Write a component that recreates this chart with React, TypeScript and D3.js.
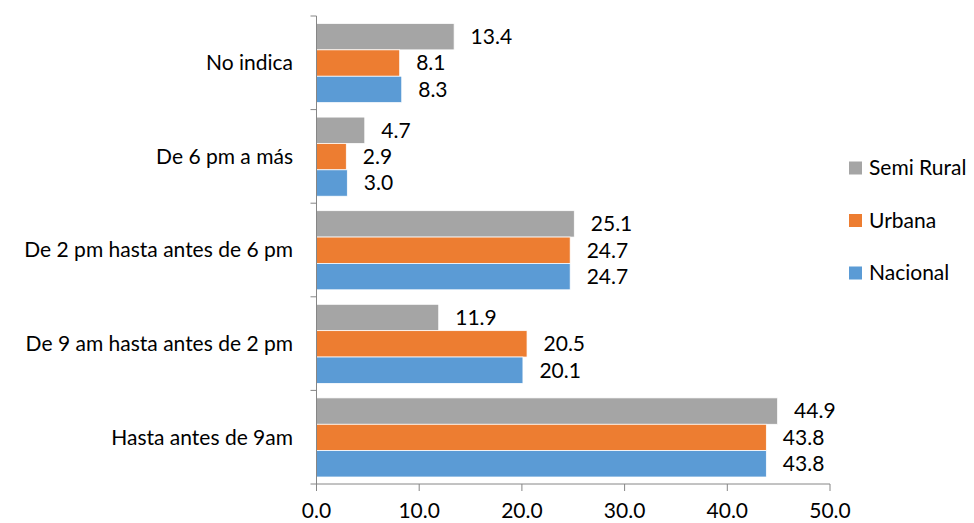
import React from "react";
import * as d3 from "d3";

const categories = [
  "No indica",
  "De 6 pm a más",
  "De 2 pm hasta antes de 6 pm",
  "De 9 am hasta antes de 2 pm",
  "Hasta antes de 9am",
];
const seriesNames = ["Semi Rural", "Urbana", "Nacional"];
const semiRural = [13.4, 4.7, 25.1, 11.9, 44.9];
const urbana = [8.1, 2.9, 24.7, 20.5, 43.8];
const nacional = [8.3, 3.0, 24.7, 20.1, 43.8];
const xTicks = [0, 10, 20, 30, 40, 50];
const colors = ["#A5A5A5", "#ED7D31", "#5B9BD5"];

const W = 974;
const H = 523;
const FONT = "Lato, 'Open Sans', sans-serif";
const FS = 21;

export default function App() {
  const series = [semiRural, urbana, nacional];
  const x = d3.scaleLinear().domain([0, 50]).range([316.5, 830]);
  const y = d3.scaleBand<string>().domain(categories).range([16, 484]).paddingInner(0).paddingOuter(0);
  const inner = d3
    .scaleBand<number>()
    .domain([0, 1, 2])
    .range([7.5, y.bandwidth() - 7])
    .padding(0);
  const axisColor = "#868686";

  return (
    <svg
      width={W}
      height={H}
      style={{ position: "absolute", left: 0, top: 0, background: "#fff" }}
      fontFamily={FONT}
    >
      <rect x={0} y={0} width={W} height={H} fill="#fff" />
      {categories.map((c, i) => {
        const y0 = y(c)!;
        return (
          <g key={c}>
            {series.map((s, k) => {
              const by = y0 + inner(k)!;
              const bh = inner.bandwidth();
              return (
                <g key={k}>
                  <rect
                    x={x(0)}
                    y={by}
                    width={x(s[i]) - x(0)}
                    height={bh}
                    fill={colors[k]}
                    stroke="#fff"
                    strokeWidth={0.75}
                  />
                  <text
                    x={x(s[i]) + 16.5}
                    y={by + bh / 2}
                    dy="0.35em"
                    fontSize={FS}
                    fill="#000"
                  >
                    {s[i].toFixed(1)}
                  </text>
                </g>
              );
            })}
            <text
              x={293}
              y={y0 + y.bandwidth() / 2}
              dy="0.35em"
              textAnchor="end"
              fontSize={FS}
              fill="#000"
            >
              {c}
            </text>
          </g>
        );
      })}
      {/* y axis */}
      <line x1={x(0)} x2={x(0)} y1={16} y2={484} stroke={axisColor} strokeWidth={1} />
      {[...categories.map((c) => y(c)!), 484].map((ty, i) => (
        <line key={i} x1={x(0) - 6} x2={x(0)} y1={ty} y2={ty} stroke={axisColor} strokeWidth={1} />
      ))}
      {/* x axis */}
      <line x1={x(0)} x2={x(50)} y1={484} y2={484} stroke={axisColor} strokeWidth={1} />
      {xTicks.map((t) => (
        <g key={t}>
          <line x1={x(t)} x2={x(t)} y1={484} y2={491} stroke={axisColor} strokeWidth={1} />
          <text x={x(t)} y={511} dy="0.35em" textAnchor="middle" fontSize={FS} fill="#000">
            {t.toFixed(1)}
          </text>
        </g>
      ))}
      {/* legend */}
      {seriesNames.map((n, k) => {
        const ly = 168 + k * 52.5;
        return (
          <g key={n}>
            <rect x={849} y={ly - 6.5} width={13} height={13} fill={colors[k]} />
            <text x={869} y={ly} dy="0.35em" fontSize={FS} fill="#000">
              {n}
            </text>
          </g>
        );
      })}
    </svg>
  );
}
